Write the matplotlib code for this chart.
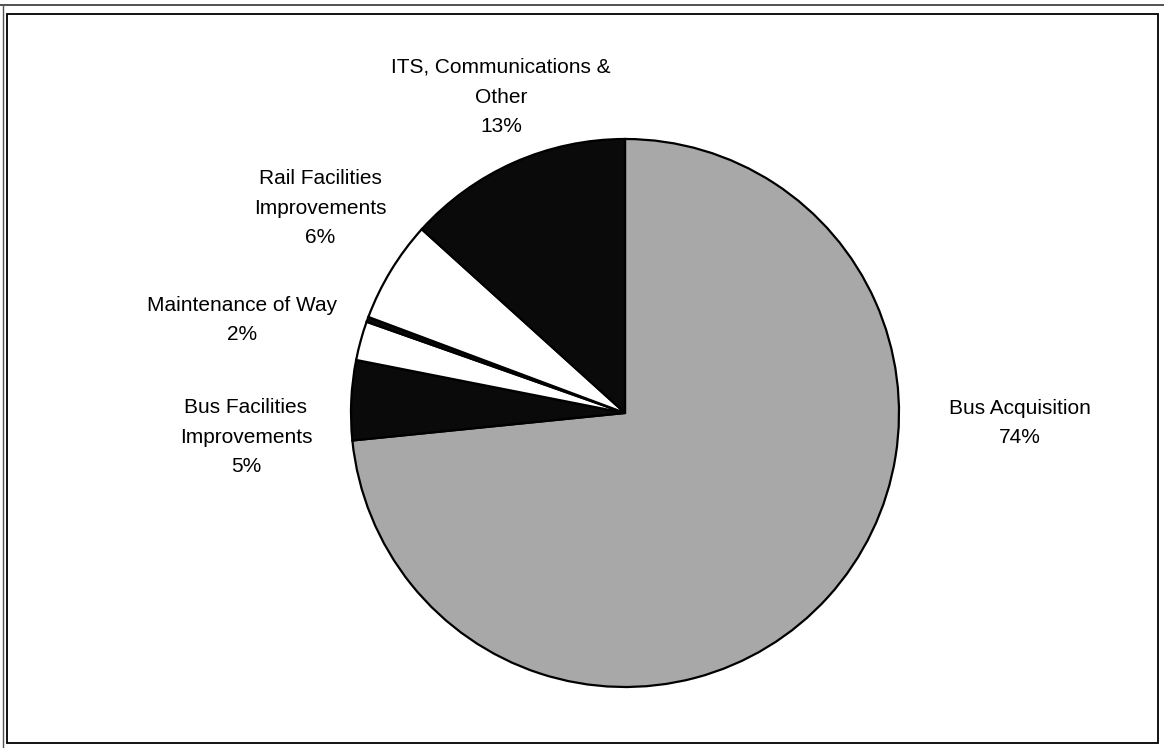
import matplotlib
matplotlib.use("Agg")
import matplotlib.pyplot as plt
from matplotlib.patches import Rectangle

plt.rcParams['font.family'] = ['Liberation Sans', 'DejaVu Sans']

categories = ["Bus Acquisition", "Bus Facilities\nImprovements", "Maintenance of Way", "",
              "Rail Facilities\nImprovements", "ITS, Communications &\nOther"]
values = [73.4, 4.7, 2.3, 0.3, 6.0, 13.3]
pct_labels = ["74%", "5%", "2%", "", "6%", "13%"]
colors = ["#a8a8a8", "#0a0a0a", "#ffffff", "#0a0a0a", "#ffffff", "#0a0a0a"]

W, H = 1164, 748
fig = plt.figure(figsize=(W / 100, H / 100), dpi=100)
ax = fig.add_axes([0, 0, 1, 1])

cx, cy, r = 625, H - 413, 274
ax.pie(values, colors=colors, startangle=90, counterclock=False,
       center=(cx, cy), radius=r, frame=True,
       wedgeprops=dict(edgecolor='black', linewidth=1.6))
ax.set_xlim(0, W)
ax.set_ylim(0, H)
ax.set_aspect('equal')
ax.axis('off')

# label positions (pixel coords from top-left)
label_pos = [(1020, 423), (246, 437), (242, 320), None, (320, 208), (501, 97)]
for cat, pct, pos in zip(categories, pct_labels, label_pos):
    if pos is None:
        continue
    ax.text(pos[0], H - pos[1], cat + "\n" + pct, ha='center', va='center',
            fontsize=15, linespacing=1.72, color='black')

# frame
ax.add_patch(Rectangle((7, H - 743), 1151, 729, fill=False, edgecolor='black', linewidth=1.3))
ax.plot([0, W], [H - 5, H - 5], color='#333333', linewidth=1.2)
ax.plot([3, 3], [0, H - 5], color='#555555', linewidth=1.0)

fig.savefig("out.png", dpi=100)
